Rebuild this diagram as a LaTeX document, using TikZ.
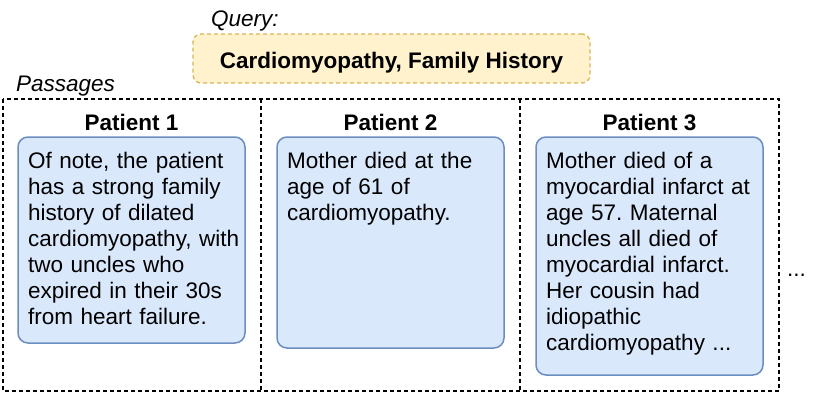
\documentclass[tikz,border=0pt]{standalone}
\usepackage{fontspec}
\setmainfont{Liberation Sans}
\frenchspacing
\usetikzlibrary{positioning}
\definecolor{queryfill}{HTML}{FFF2CC}
\definecolor{querydraw}{HTML}{D6B656}
\definecolor{passfill}{HTML}{DAE8FC}
\definecolor{passdraw}{HTML}{6C8EBF}
\tikzset{
  big/.style={font=\fontsize{22.5}{26}\selectfont},
  bigbold/.style={font=\fontsize{22.5}{26}\selectfont\bfseries},
  bigit/.style={font=\fontsize{22.5}{26}\selectfont\itshape},
  qbox/.style={bigbold, draw=querydraw, fill=queryfill, line width=1.3pt, dash pattern=on 4pt off 3pt,
    rounded corners=8pt, minimum width=397pt, minimum height=49pt, text height=21pt, text depth=2pt},
  passbox/.style={draw=passdraw, fill=passfill, line width=1.5pt, rounded corners=10pt,
    minimum width=227pt, inner sep=0pt, outer sep=0pt},
  passtext/.style={big, align=left, text width=215pt, inner sep=0pt, anchor=base west},
  frameline/.style={line width=1.3pt, dash pattern=on 4pt off 3pt}
}
\begin{document}
\begin{tikzpicture}[x=1pt, y=-1pt]
\useasboundingbox (0,0) rectangle (831,394);
% query
\node[bigit, anchor=base west, inner sep=0pt] (qlabel) at (211,26) {Query:};
\node[qbox] (query) at (391.5,58.5) {Cardiomyopathy, Family History};
% passages frame
\node[bigit, anchor=base west, inner sep=0pt] (plabel) at (16,91) {Passages};
\draw[frameline] (3,99) rectangle (779,391);
\draw[frameline] (261,99) -- (261,391);
\draw[frameline] (520,99) -- (520,391);
% patient boxes
\node[passbox, minimum height=206pt, anchor=north west] (box1) at (18,137) {};
\node[passbox, minimum height=211pt, right=32pt of box1.north east, anchor=north west] (box2) {};
\node[passbox, minimum height=238pt, right=32pt of box2.north east, anchor=north west] (box3) {};
\node[bigbold, anchor=base] (title1) at ([yshift=6.5pt]box1.north) {Patient 1};
\node[bigbold, anchor=base] (title2) at ([yshift=6.5pt]box2.north) {Patient 2};
\node[bigbold, anchor=base] (title3) at ([yshift=6.5pt]box3.north) {Patient 3};
\node[passtext] (text1) at ([shift={(10pt,-31pt)}]box1.north west)
  {Of note, the patient\\has a strong family\\history of dilated\\cardiomyopathy, with\\two uncles who\\expired in their 30s\\from heart failure.};
\node[passtext] (text2) at ([shift={(10pt,-31pt)}]box2.north west)
  {Mother died at the\\age of 61 of\\cardiomyopathy.};
\node[passtext] (text3) at ([shift={(10pt,-31pt)}]box3.north west)
  {Mother died of a\\myocardial infarct at\\age 57. Maternal\\uncles all died of\\myocardial infarct.\\Her cousin had\\idiopathic\\cardiomyopathy ...};
\node[big, anchor=base west, inner sep=0pt] (more) at (787,276) {...};
\end{tikzpicture}
\end{document}
